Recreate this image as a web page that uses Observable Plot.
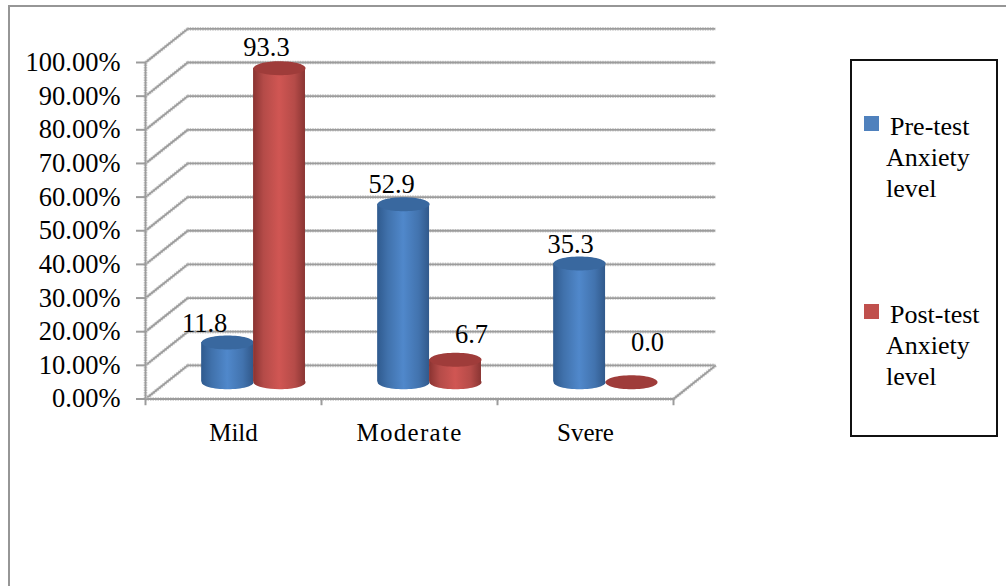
<!DOCTYPE html>
<html>
<head>
<meta charset="utf-8">
<script src="https://cdn.jsdelivr.net/npm/d3@7"></script>
<script src="https://cdn.jsdelivr.net/npm/@observablehq/plot@0.6"></script>
<style>
  html, body { margin: 0; padding: 0; background: #fff; }
  #page { position: relative; width: 1006px; height: 586px; overflow: hidden; font-family: "Liberation Serif", serif; color: #000; }
  #frame { position: absolute; left: 8px; top: 5px; width: 1100px; height: 700px; border: 2px solid #969696; box-sizing: border-box; pointer-events: none; }
  #legend { position: absolute; left: 850px; top: 59px; width: 148px; height: 378px; border: 2px solid #111; box-sizing: border-box; background: #fff; font-size: 26px; line-height: 31px; }
  .entry { position: absolute; left: 34px; width: 112px; }
  .swatch { position: absolute; left: 12px; width: 15px; height: 15px; }
</style>
</head>
<body>
<div id="page">
  <div id="chart"></div>
  <div id="frame"></div>
  <div id="legend"></div>
</div>
<script>
const categories = ["Mild", "Moderate", "Svere"];
const preTest = [11.8, 52.9, 35.3];
const postTest = [93.3, 6.7, 0.0];
const yTicks = [0, 10, 20, 30, 40, 50, 60, 70, 80, 90, 100];
const seriesNames = ["Pre-test Anxiety level", "Post-test Anxiety level"];

// The box has a depth of 0.24 category widths and 10 value units on screen.
const depthX = 0.24, depthY = 10;
const barWidth = 0.295;
const barShift = -0.006;
const rx = 26, ry = 7;

const gridColor = "#9c9c9c";
const ellipse = (a, b) => ({
  draw(ctx) {
    const k = 0.5523;
    ctx.moveTo(-a, 0);
    ctx.bezierCurveTo(-a, -b * k, -a * k, -b, 0, -b);
    ctx.bezierCurveTo(a * k, -b, a, -b * k, a, 0);
    ctx.bezierCurveTo(a, b * k, a * k, b, 0, b);
    ctx.bezierCurveTo(-a * k, b, -a, b * k, -a, 0);
    ctx.closePath();
  }
});

function gradients() {
  const defs = d3.create("svg:defs");
  const add = (id, stops) => {
    const g = defs.append("linearGradient").attr("id", id);
    stops.forEach(([o, c]) => g.append("stop").attr("offset", o).attr("stop-color", c));
  };
  add("cyl-blue", [[0, "#2f5a8e"], [0.2, "#4071ab"], [0.5, "#5088cb"], [0.8, "#4273ae"], [1, "#31598b"]]);
  add("cyl-red", [[0, "#8a3331"], [0.2, "#b44b48"], [0.5, "#d05653"], [0.8, "#b54b48"], [1, "#8a3533"]]);
  return defs.node();
}

const centerOf = (i, side) => i + 0.5 + depthX / 2 + barShift + side * barWidth / 2;

function cylinders(values, side, gradient, capColor) {
  const rows = values.map((v, i) => ({
    cx: centerOf(i, side),
    base: depthY / 2,
    top: depthY / 2 + v,
    value: v
  }));
  const tall = rows.filter((d) => d.value > 0);
  return [
    Plot.dot(tall, {x: "cx", y: "base", symbol: ellipse(rx, ry), fill: `url(#${gradient})`, stroke: "none"}),
    Plot.rect(tall, {
      x1: (d) => d.cx - barWidth / 2,
      x2: (d) => d.cx + barWidth / 2,
      y1: "base", y2: "top",
      fill: `url(#${gradient})`
    }),
    Plot.dot(rows, {x: "cx", y: "top", symbol: ellipse(rx, ry), fill: capColor, stroke: "none"})
  ];
}

// Value labels sit beside their cylinders, each with its own nudge.
const labelNudge = [
  {series: 0, i: 0, dx: -23, dy: -19},
  {series: 1, i: 0, dx: -13, dy: -21},
  {series: 0, i: 1, dx: -12, dy: -20},
  {series: 1, i: 1, dx: 16, dy: -25},
  {series: 0, i: 2, dx: -9, dy: -19},
  {series: 1, i: 2, dx: 16, dy: -40}
];
const valueLabels = labelNudge.map(({series, i, dx, dy}) => {
  const v = (series ? postTest : preTest)[i];
  const cx = centerOf(i, series ? 1 : -1);
  return Plot.text([v], {
    x: () => cx, y: (d) => d + depthY / 2, text: (d) => d.toFixed(1),
    dx, dy, fontSize: 26.5, fill: "#000"
  });
});

// Rulings are a grey core over a paler stippled fringe.
const ruled = (factory, data, options) => [
  factory(data, {...options, stroke: "#c9c9c9", strokeWidth: 3.6, strokeDasharray: "1.5 1"}),
  factory(data, {...options, stroke: gridColor, strokeWidth: 1.8})
];

const categoryLabel = (wide) => (index, scales, values, dimensions, context, next) => {
  const g = next(index, scales, values, dimensions, context);
  if (wide) g.style.letterSpacing = "1.3px";
  return g;
};

const plot = Plot.plot({
  width: 1006,
  height: 586,
  marginLeft: 145,
  marginRight: 333,
  marginTop: 62,
  marginBottom: 187.5,
  style: {background: "transparent", fontFamily: "'Liberation Serif', serif"},
  x: {type: "linear", domain: [0, 3], range: [145, 673], axis: null},
  y: {type: "linear", domain: [0, 100], range: [398.5, 62], axis: null},
  marks: [
    gradients,
    // back wall and left wall rulings
    ...ruled(Plot.ruleY, yTicks.map((v) => v + depthY), {x1: depthX, x2: 3 + depthX}),
    ...ruled(Plot.link, yTicks, {x1: 0, x2: depthX, y1: (d) => d, y2: (d) => d + depthY}),
    // floor outline and category ticks
    ...ruled(Plot.link, [3], {x1: (d) => d, x2: (d) => d + depthX, y1: 0, y2: depthY}),
    ...ruled(Plot.ruleY, [0], {x1: 0, x2: 3}),
    ...ruled(Plot.ruleX, [0], {y1: 0, y2: 100}),
    Plot.ruleX([0, 1, 2, 3], {y1: 0, y2: -2, stroke: gridColor, strokeWidth: 2}),
    Plot.axisY(yTicks, {
      anchor: "left",
      label: null,
      tickSize: 9,
      tickPadding: 16,
      stroke: gridColor,
      strokeWidth: 2,
      fontSize: 26.5,
      tickFormat: (d) => d.toFixed(2) + "%"
    }),
    ...categories.map((name, i) => Plot.text([name], {
      x: () => i + 0.5,
      y: () => -10,
      text: (d) => d,
      fontSize: 25,
      fill: "#000",
      render: categoryLabel(name === "Moderate")
    })),
    ...cylinders(preTest, -1, "cyl-blue", "#39689f"),
    ...cylinders(postTest, 1, "cyl-red", "#9f3c3a"),
    ...valueLabels
  ]
});
document.getElementById("chart").appendChild(plot);

// Legend box beside the chart
const legend = d3.select("#legend");
const legendColors = ["#4f81bd", "#c0504d"];
const legendTops = [50, 238];
seriesNames.forEach((name, i) => {
  legend.append("div").attr("class", "swatch")
    .style("top", legendTops[i] + 5 + "px")
    .style("background", legendColors[i]);
  const words = name.split(" ");
  const entry = legend.append("div").attr("class", "entry").style("top", legendTops[i] + "px");
  words.forEach((line, j) => {
    entry.append("div").style("padding-left", j === 0 ? "4px" : "0").style("white-space", "nowrap").text(line);
  });
});
</script>
</body>
</html>
